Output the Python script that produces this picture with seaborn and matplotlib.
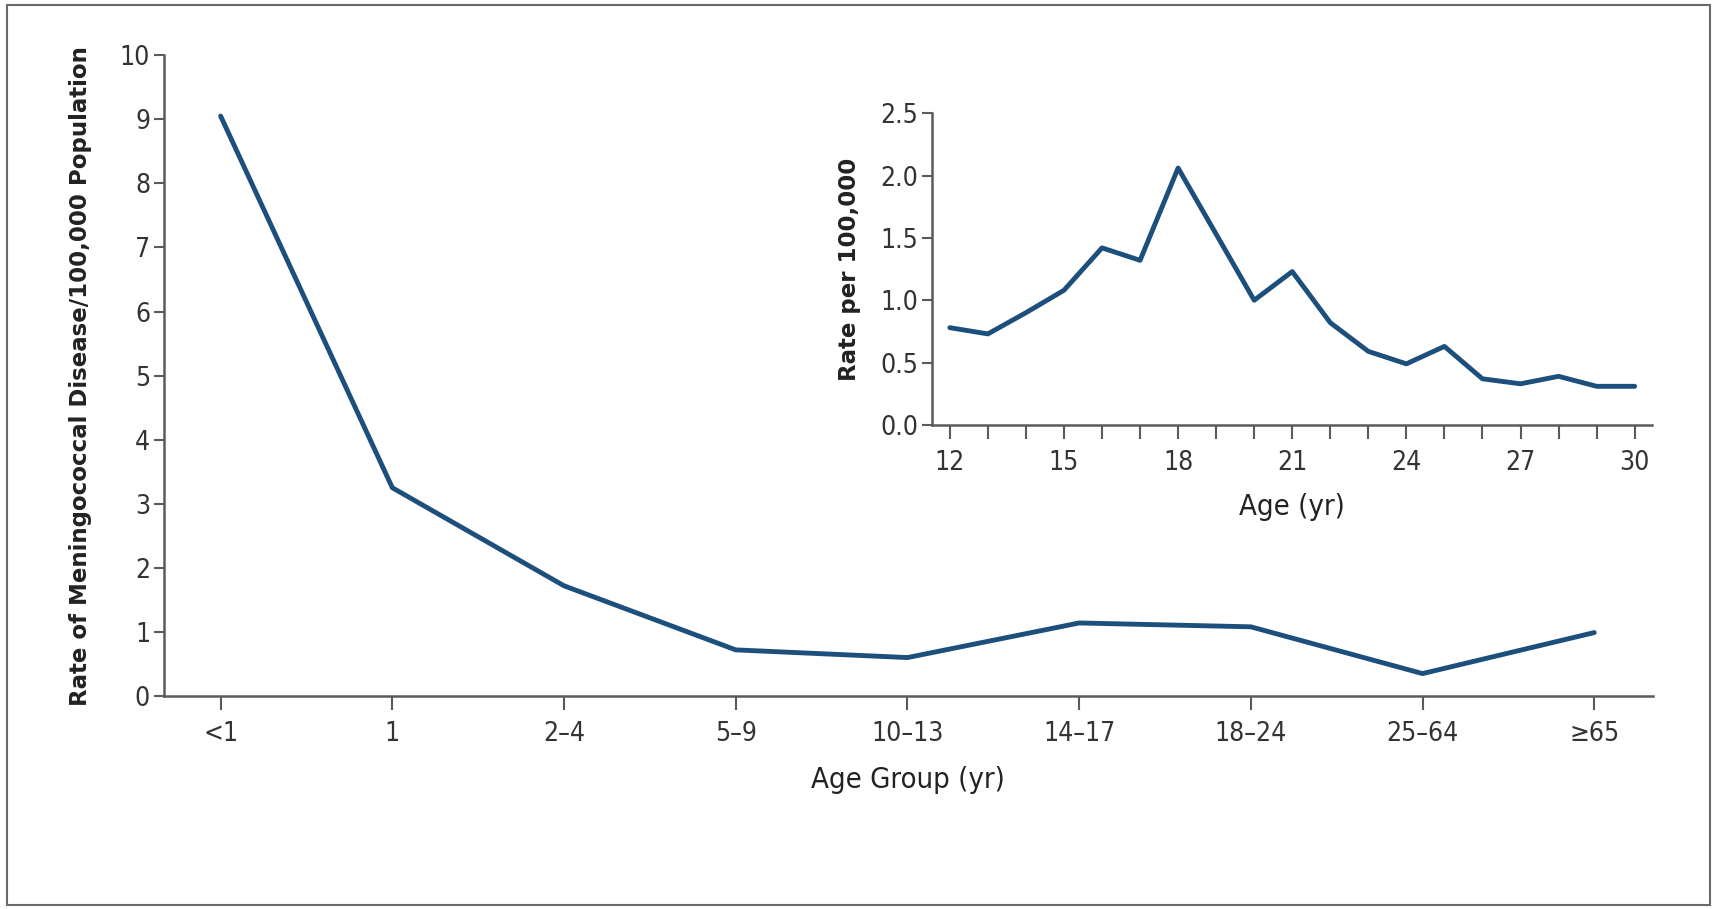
import matplotlib
matplotlib.use("Agg")
import matplotlib.pyplot as plt
import seaborn as sns
import pandas as pd
from matplotlib.patches import Rectangle

# main panel: rate by age group
age_groups = ["<1", "1", "2\u20134", "5\u20139", "10\u201313", "14\u201317", "18\u201324", "25\u201364", "\u226565"]
group_rate = [9.05, 3.25, 1.72, 0.72, 0.60, 1.14, 1.08, 0.35, 0.99]

# inset: rate by single year of age
inset_age = list(range(12, 31))
inset_rate = [0.78, 0.73, 0.90, 1.08, 1.42, 1.32, 2.06, 1.53, 1.00, 1.23,
              0.82, 0.59, 0.49, 0.63, 0.37, 0.33, 0.39, 0.31, 0.31]

sns.set_style("ticks")
plt.rcParams['font.family'] = ['DejaVu Sans']

line_col = "#1d4f7d"
spine_col = "#5a5a5a"
text_col = "#333333"

fig = plt.figure(figsize=(17.17, 9.09), dpi=100)
fig.patches.append(Rectangle((0.004, 0.004), 0.992, 0.99, transform=fig.transFigure,
                             fill=False, edgecolor="#6a6a6a", linewidth=1.5))

ax = fig.add_axes([0.0955, 0.2343, 0.867, 0.705])
df = pd.DataFrame({"pos": range(len(age_groups)), "rate": group_rate})
sns.lineplot(data=df, x="pos", y="rate", ax=ax, color=line_col, linewidth=3.5)
ax.set_xlim(-0.33, 8.34)
ax.set_ylim(0, 10)
ax.set_xticks(range(len(age_groups)))
ax.set_xticklabels(age_groups)
ax.set_yticks(range(0, 11))
ax.set_xlabel("Age Group (yr)", fontsize=21, fontstretch="condensed", color="#222222", labelpad=14)
ax.set_ylabel("Rate of Meningococcal Disease/100,000 Population", fontsize=16.5,
              fontweight="bold", color="#222222", labelpad=20)

ax2 = fig.add_axes([0.543, 0.5325, 0.419, 0.343])
di = pd.DataFrame({"age": inset_age, "rate": inset_rate})
sns.lineplot(data=di, x="age", y="rate", ax=ax2, color=line_col, linewidth=3.5)
ax2.set_xlim(11.54, 30.45)
ax2.set_ylim(0, 2.5)
ax2.set_xticks(range(12, 31, 3))
ax2.set_xticks(inset_age, minor=True)
ax2.set_yticks([0, 0.5, 1.0, 1.5, 2.0, 2.5])
ax2.set_yticklabels(["0.0", "0.5", "1.0", "1.5", "2.0", "2.5"])
ax2.set_xlabel("Age (yr)", fontsize=21, fontstretch="condensed", color="#222222", labelpad=12)
ax2.set_ylabel("Rate per 100,000", fontsize=16.5,
               fontweight="bold", color="#222222", labelpad=14)

for a in (ax, ax2):
    sns.despine(ax=a)
    for s in ("left", "bottom"):
        a.spines[s].set_color(spine_col)
        a.spines[s].set_linewidth(1.8)
    a.tick_params(axis="both", which="both", colors=spine_col, width=1.5,
                  labelsize=19, labelcolor=text_col)
    a.tick_params(axis="y", length=7, pad=3)
    a.tick_params(axis="x", which="major", length=10, pad=8)
    a.tick_params(axis="x", which="minor", length=10)
    for lab in a.get_xticklabels() + a.get_yticklabels():
        lab.set_fontstretch("condensed")

fig.savefig("out.png", dpi=100)
